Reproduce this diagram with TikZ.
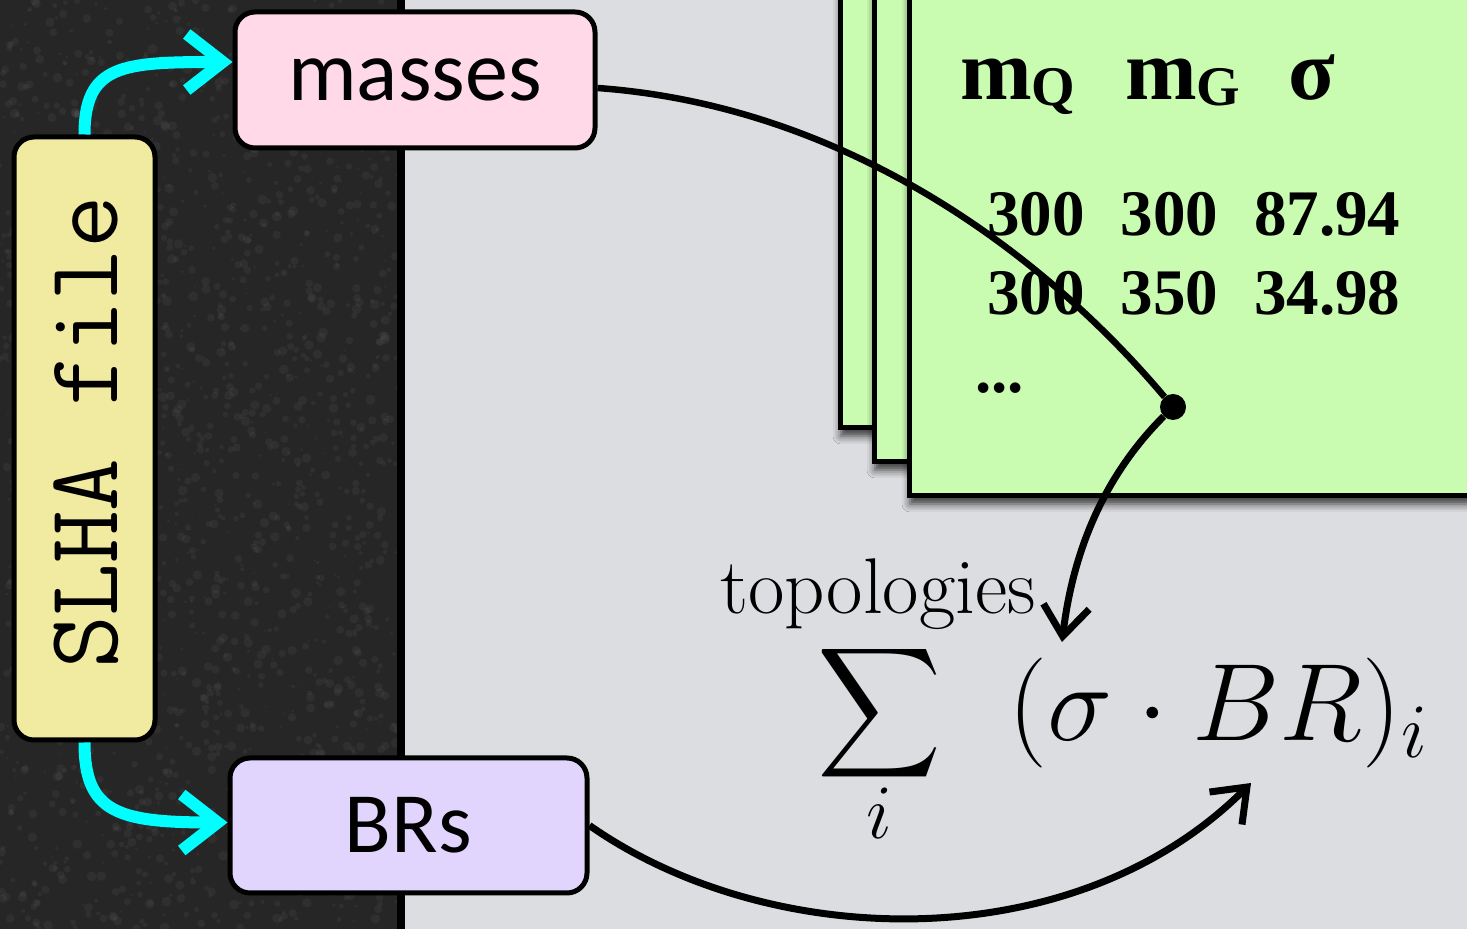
\RequirePackage{fix-cm}
\documentclass[tikz,border=0pt]{standalone}
\usepackage{fontspec}
\newfontfamily\gillf{Carlito}
\newfontfamily\tnr{Liberation Serif}
\usetikzlibrary{arrows.meta,shadows.blur,calc}
\definecolor{darkbg}{HTML}{262626}
\definecolor{lightbg}{HTML}{DCDDE0}
\definecolor{slhaY}{HTML}{F0EBA0}
\definecolor{massP}{HTML}{FFD9E8}
\definecolor{brL}{HTML}{E2D5FD}
\definecolor{cardG}{HTML}{C9FBB0}
\definecolor{cyanA}{HTML}{00FFFF}
\newcommand{\bigsumop}{\mathop{\vcenter{\hbox{\fontsize{10}{12}\selectfont\scalebox{8.6}[9.1]{$\displaystyle\sum$}}}}}
\begin{document}
\begin{tikzpicture}[x=1pt,y=1pt,
  box/.style={draw=black, line width=5pt, rounded corners=20pt, inner sep=0pt, align=center},
  card/.style={draw=black, line width=5pt, fill=cardG, inner sep=0pt,
    blur shadow={shadow xshift=1pt, shadow yshift=-8pt, shadow blur radius=8pt, shadow opacity=75}},
  cyanarrow/.style={cyanA, line width=12pt, -{Straight Barb[length=36pt,width=56pt]}},
  blackarrow/.style={black, line width=7pt, -{Straight Barb[length=30pt,width=46pt]}},
  blackline/.style={black, line width=6.5pt},
  cardtxt/.style={anchor=base west, inner sep=0pt, font=\tnr\bfseries\fontsize{65}{65}\selectfont},
  cardhead/.style={anchor=base west, inner sep=0pt, font=\tnr\bfseries\fontsize{86}{86}\selectfont}]
\useasboundingbox (0,0) rectangle (1467,929);
\begin{scope}
\clip (0,0) rectangle (1467,929);
% backgrounds
\fill[darkbg] (0,0) rectangle (401,929);
\pgfmathsetseed{7}
\foreach \k in {1,...,1800}{
  \fill[white, opacity=0.045] (rnd*401, rnd*929) circle (1+rnd*4);
}
\fill[lightbg] (401,0) rectangle (1467,929);
\draw[black, line width=8pt] (401,0) -- (401,929);
% cards
\node[card, minimum width=660pt, minimum height=478pt] (card3) at (1170,740) {};
\node[card, minimum width=626pt, minimum height=512pt] (card2) at (1187,723) {};
\node[card, minimum width=591pt, minimum height=546pt] (card1) at (1204.5,706) {};
\node[cardhead] (hmq) at (960,829) {m\raisebox{-6pt}{\fontsize{56}{56}\selectfont Q}};
\node[cardhead] (hmg) at (1125,829) {m\raisebox{-6pt}{\fontsize{56}{56}\selectfont G}};
\node[cardhead] (hsig) at (1288,829) {σ};
\node[cardtxt] (row1) at (987,693) {300\hspace{36pt}300\hspace{36pt}87.94};
\node[cardtxt] (row2) at (987,614) {300\hspace{36pt}350\hspace{36pt}34.98};
\node[cardtxt] (more) at (975,536) {...};
% boxes
\node[box, fill=slhaY, minimum width=141pt, minimum height=603pt] (slha) at (84.5,490.5) {};
\node[rotate=90, inner sep=0pt, font=\ttfamily\fontsize{102}{102}\selectfont] (slhatext) at (86,496.5) {SLHA file};
\node[box, fill=massP, minimum width=360pt, minimum height=136pt, font=\gillf\fontsize{86}{86}\selectfont] (masses) at (415,849) {masses};
\node[box, fill=brL, minimum width=357pt, minimum height=135pt, font=\gillf\fontsize{86}{86}\selectfont] (brs) at (408.5,103.5) {BRs};
% formula
\node[anchor=base west, inner sep=0pt, font=\fontsize{79}{79}\selectfont] (topo) at (720,315) {topologies};
\node[anchor=base west, inner sep=0pt, font=\fontsize{110}{116}\selectfont] (formula) at (817,188)
  {$\bigsumop\limits_{i}\mkern11mu(\sigma\cdot BR)_i$};
% dot and free ends
\node[circle, fill=black, inner sep=0pt, minimum size=26pt] (dot) at (1173,522) {};
\coordinate (topotip) at (1062,287);
\coordinate (brtip) at (1251,146);
% connectors
\draw[cyanarrow] (slha.north) .. controls +(0,70) and +(-110,0) .. ($(masses.west)+(0,18)$);
\draw[cyanarrow] (slha.south) .. controls +(0,-70) and +(-110,0) .. ($(brs.west)+(0,3)$);
\draw[blackline] ($(masses.east)+(0,-8)$) .. controls +(249,-18) and +(-129,153) .. (dot);
\draw[blackarrow] (dot) .. controls +(-64,-64) and +(12,99) .. (topotip);
\draw[blackarrow] (brs.east) .. controls +(180,-126) and +(-177,-177) .. (brtip);
\end{scope}
\end{tikzpicture}
\end{document}
